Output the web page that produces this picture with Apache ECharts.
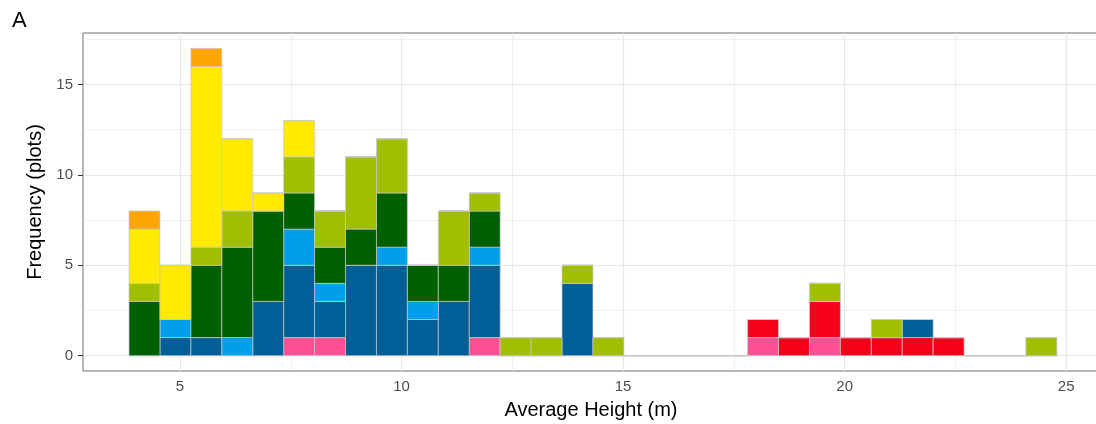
<!DOCTYPE html>
<html>
<head>
<meta charset="utf-8">
<script src="https://cdn.jsdelivr.net/npm/echarts@6/dist/echarts.min.js"></script>
<style>
html,body{margin:0;padding:0;background:#fff;}
#c{width:1096px;height:424px;}
</style>
</head>
<body>
<div id="c"></div>
<script>
// Histogram bins (30 bins) of average height (m)
const binStart = 3.849;
const binWidth = 0.698;

// Counts per bin, per group (stacked bottom -> top)
const pinkCounts   = [0,0,0,0,0,1,1,0,0,0,0,1,0,0,0,0,0,0,0,0,1,0,1,0,0,0,0,0,0,0];
const redCounts    = [0,0,0,0,0,0,0,0,0,0,0,0,0,0,0,0,0,0,0,0,1,1,2,1,1,1,1,0,0,0];
const navyCounts   = [0,1,1,0,3,4,2,5,5,2,3,4,0,0,4,0,0,0,0,0,0,0,0,0,0,1,0,0,0,0];
const blueCounts   = [0,1,0,1,0,2,1,0,1,1,0,1,0,0,0,0,0,0,0,0,0,0,0,0,0,0,0,0,0,0];
const dgreenCounts = [3,0,4,5,5,2,2,2,3,2,2,2,0,0,0,0,0,0,0,0,0,0,0,0,0,0,0,0,0,0];
const oliveCounts  = [1,0,1,2,0,2,2,4,3,0,3,1,1,1,1,1,0,0,0,0,0,0,1,0,1,0,0,0,0,1];
const yellowCounts = [3,3,10,4,1,2,0,0,0,0,0,0,0,0,0,0,0,0,0,0,0,0,0,0,0,0,0,0,0,0];
const orangeCounts = [1,0,1,0,0,0,0,0,0,0,0,0,0,0,0,0,0,0,0,0,0,0,0,0,0,0,0,0,0,0];

const groupNames  = ['pink','red','navy','blue','darkgreen','olive','yellow','orange'];
const groupColors = ['#FF4F95','#F4001B','#005F96','#009EEB','#005F00','#A1BE00','#FFEA00','#FFA500'];

const xTicks = [5,10,15,20,25];
const xMinor = [7.5,12.5,17.5,22.5];
const yTicks = [0,5,10,15];
const yMinor = [2.5,7.5,12.5,17.5];

const xMin = 2.81, xMax = 25.74;
const yMin = -0.85, yMax = 17.85;

const groups = [pinkCounts, redCounts, navyCounts, blueCounts, dgreenCounts, oliveCounts, yellowCounts, orangeCounts];

// build stacked rectangles
const cum = new Array(pinkCounts.length).fill(0);
const series = [];
groups.forEach((counts, gi) => {
  const data = counts.map((c, i) => {
    const x0 = binStart + i * binWidth;
    const x1 = x0 + binWidth;
    const base = cum[i];
    const top = base + c;
    cum[i] = top;
    return [x0, x1, base, top];
  });
  series.push({
    type: 'custom',
    name: groupNames[gi],
    z: 5,
    silent: true,
    data: data,
    encode: { x: [0, 1], y: [2, 3] },
    renderItem: function (params, api) {
      const p0 = api.coord([api.value(0), api.value(2)]);
      const p1 = api.coord([api.value(1), api.value(3)]);
      return {
        type: 'rect',
        shape: { x: p0[0], y: p1[1], width: p1[0] - p0[0], height: p0[1] - p1[1] },
        style: { fill: groupColors[gi], stroke: '#C9C9C9', lineWidth: 0.7 }
      };
    }
  });
});

// grid lines via markLine
const gridLine = (v, axis, w) => ({ [axis]: v, lineStyle: { color: '#E8E8E8', width: w, type: 'solid' } });
series.unshift({
  type: 'line',
  data: [],
  silent: true,
  z: 1,
  markLine: {
    silent: true,
    symbol: 'none',
    animation: false,
    label: { show: false },
    emphasis: { disabled: true },
    data: [
      ...yTicks.map(v => gridLine(v, 'yAxis', 1.2)),
      ...yMinor.map(v => gridLine(v, 'yAxis', 0.7)),
      ...xTicks.map(v => gridLine(v, 'xAxis', 1.2)),
      ...xMinor.map(v => gridLine(v, 'xAxis', 0.7))
    ]
  }
});

const chart = echarts.init(document.getElementById('c'), null, { renderer: 'canvas' });
chart.setOption({
  animation: false,
  backgroundColor: '#ffffff',
  title: {
    text: 'A', left: 12, top: 10, padding: 0,
    textStyle: { fontFamily: 'Liberation Sans, Arial', fontSize: 22, fontWeight: 'normal', color: '#000' }
  },
  grid: {
    left: 83, right: -3, top: 33, bottom: 53,
    show: true, borderColor: '#6E6E6E', borderWidth: 1, backgroundColor: 'transparent',
    containLabel: false, outerBoundsMode: 'none'
  },
  xAxis: {
    type: 'value', min: xMin, max: xMax,
    name: 'Average Height (m)', nameLocation: 'middle', nameGap: 29,
    nameTextStyle: { fontFamily: 'Liberation Sans, Arial', fontSize: 20, color: '#000' },
    axisLine: { show: false },
    axisTick: { show: true, customValues: xTicks, length: 5, lineStyle: { color: '#333', width: 1 } },
    axisLabel: { customValues: xTicks, margin: 8, fontFamily: 'Liberation Sans, Arial', fontSize: 15, color: '#4D4D4D' },
    splitLine: { show: false }
  },
  yAxis: {
    type: 'value', min: yMin, max: yMax,
    name: 'Frequency (plots)', nameLocation: 'middle', nameGap: 37, nameRotate: 90,
    nameTextStyle: { fontFamily: 'Liberation Sans, Arial', fontSize: 20, color: '#000' },
    axisLine: { show: false },
    axisTick: { show: true, customValues: yTicks, length: 5, lineStyle: { color: '#333', width: 1 } },
    axisLabel: { customValues: yTicks, margin: 10, fontFamily: 'Liberation Sans, Arial', fontSize: 15, color: '#4D4D4D' },
    splitLine: { show: false }
  },
  series: series
});
</script>
</body>
</html>
